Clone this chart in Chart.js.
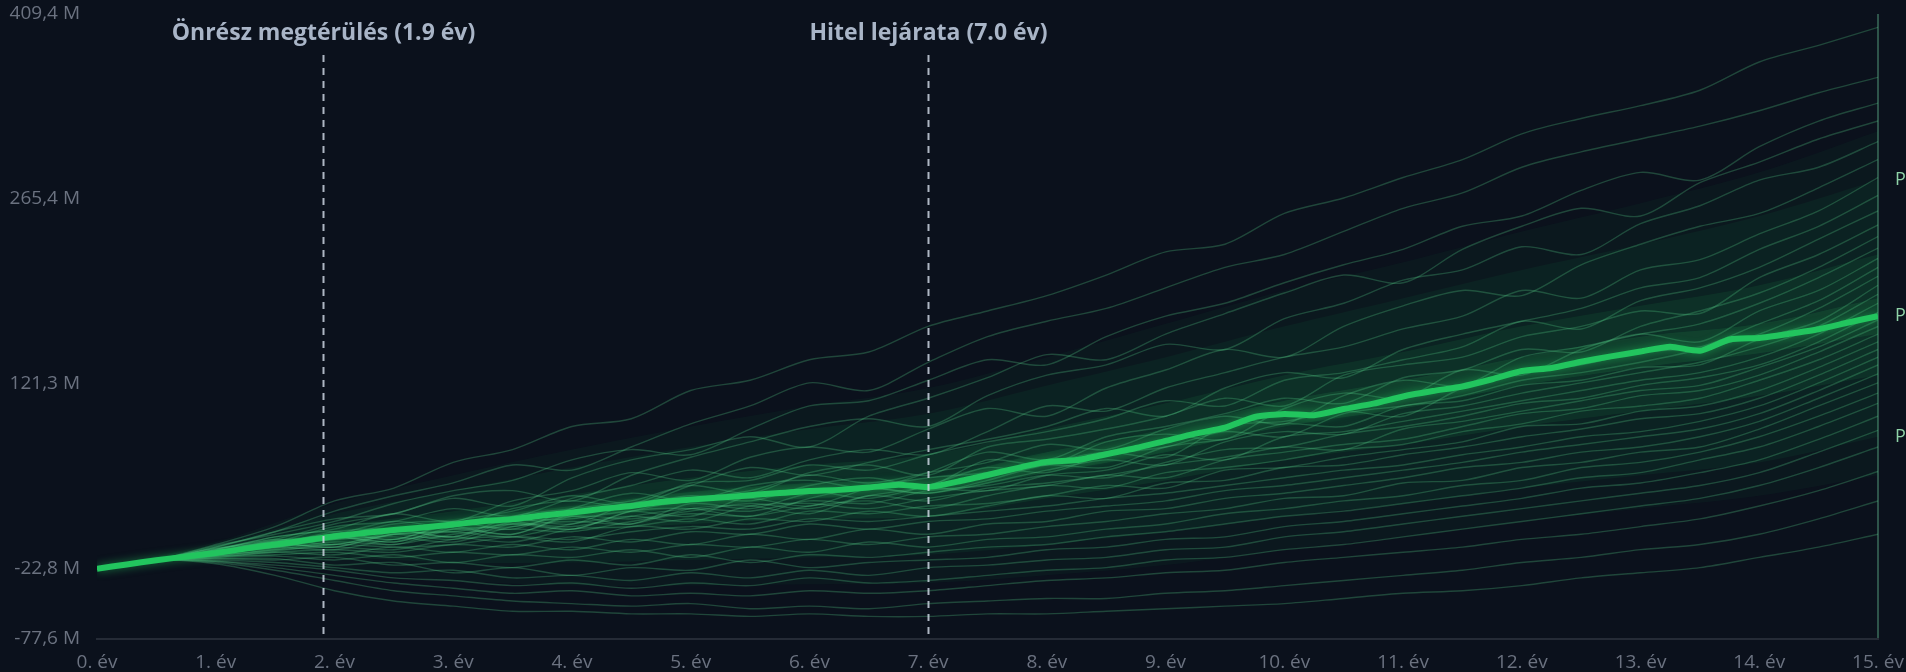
<!DOCTYPE html>
<html lang="hu">
<head>
<meta charset="utf-8">
<title>Monte Carlo – vagyon alakulása</title>
<script src="https://cdn.jsdelivr.net/npm/chart.js@4.4.1/dist/chart.umd.min.js"></script>
<style>
  html, body { margin: 0; padding: 0; background: #0b111c; }
  #wrap { width: 1906px; height: 672px; }
</style>
</head>
<body>
<div id="wrap"><canvas id="mcChart" width="1906" height="672"></canvas></div>
<script>
// x grids (years)
const quarterYears = [0,0.25,0.5,0.75,1,1.25,1.5,1.75,2,2.25,2.5,2.75,3,3.25,3.5,3.75,4,4.25,4.5,4.75,5,5.25,5.5,5.75,6,6.25,6.5,6.75,7,7.25,7.5,7.75,8,8.25,8.5,8.75,9,9.25,9.5,9.75,10,10.25,10.5,10.75,11,11.25,11.5,11.75,12,12.25,12.5,12.75,13,13.25,13.5,13.75,14,14.25,14.5,14.75,15];
const halfYears = [0,0.5,1,1.5,2,2.5,3,3.5,4,4.5,5,5.5,6,6.5,7,7.5,8,8.5,9,9.5,10,10.5,11,11.5,12,12.5,13,13.5,14,14.5,15];
const wholeYears = [0,1,2,3,4,5,6,7,8,9,10,11,12,13,14,15];

// y axis ticks (millió Ft)
const yTickValues = [-77.6, -22.8, 121.3, 265.4, 409.4];

// median path (M Ft), quarterly
const medianValues = [-22.8,-19.5,-16.2,-13.4,-10.6,-7.2,-4.0,-0.8,2.4,5.0,7.4,9.2,11.6,14.2,15.8,18.6,21.0,23.8,26.0,29.2,31.0,32.6,34.4,36.2,37.8,38.6,40.4,42.6,40.8,45.0,50.2,55.6,60.4,61.8,66.4,71.2,76.8,82.4,87.0,95.4,97.8,96.8,101.6,105.8,111.4,115.6,119.2,124.8,131.2,133.6,138.4,142.6,146.4,150.2,147.0,155.8,157.0,160.2,163.8,169.0,174.0];

// percentile bands, yearly
const p05Band = [-22.8,-16,-24,-32,-36,-36,-35,-34,-28,-20,-8,2,14,24,34,50];
const p10Band = [-22.8,-14,-14,-18,-18,-16,-14,-12,-4,6,18,28,40,50,60,80];
const p25Band = [-22.8,-12,-4,0,6,12,16,18,32,46,62,74,88,100,112,128];
const p40Band = [-22.8,-11,-1,7,16,25,32,36,52,68,88,102,120,134,145,160];
const p60Band = [-22.8,-9.5,5,16,26,37,44,48,68,86,108,124,142,158,168,188];
const p75Band = [-22.8,-8,10,22,35,48,58,66,86,106,128,146,166,182,198,222];
const p90Band = [-22.8,-4,20,38,56,72,86,98,120,142,166,188,210,230,252,280];
const p95Band = [-22.8,-2,28,50,70,88,104,118,142,168,194,216,240,262,286,318];

// individual simulated paths, half-yearly
const simPaths = [
  [-22.8,-16,-4,10,30,40,60,70,88,94,116,124,140,146,166,178,190,206,224,230,254,266,282,296,316,328,338,350,372,385,399],
  [-22.8,-16,-6,6,22,34,44,58,54,72,90,104,122,116,138,158,170,180,196,212,222,240,258,270,290,302,312,322,334,348,360],
  [-22.8,-16,-5,4,14,28,38,46,62,70,66,86,104,108,124,140,136,158,174,184,200,214,226,244,252,272,286,280,306,326,340],
  [-22.8,-16,-7,0,12,20,32,26,48,62,70,80,72,96,110,126,144,140,160,176,192,206,200,226,244,258,252,278,294,312,326],
  [-22.8,-16,-6,6,16,20,34,38,30,50,64,76,88,94,88,112,128,136,152,148,172,184,202,210,228,222,246,260,280,290,310],
  [-22.8,-16,-8,2,8,20,14,30,38,52,46,64,72,68,86,102,96,118,132,148,142,166,182,194,190,214,230,244,254,274,296],
  [-22.8,-16,-7,-2,10,14,24,18,32,42,54,48,62,70,66,84,104,100,118,130,142,150,164,174,194,188,210,218,238,256,282],
  [-22.8,-16,-9,-1,4,14,10,24,30,26,42,56,50,60,70,78,88,102,96,118,130,126,148,160,170,180,196,204,226,244,268],
  [-22.8,-16,-8,2,6,0,14,22,34,28,44,46,58,54,66,76,84,94,108,104,124,130,140,150,170,164,186,196,212,234,256],
  [-22.8,-16,-10,-4,6,8,2,18,24,30,42,36,52,58,50,72,78,86,96,110,104,128,136,142,158,166,178,176,204,222,245],
  [-22.8,-16,-9,-1,2,12,14,8,24,36,30,42,46,40,52,68,62,80,88,98,110,106,126,132,148,146,166,178,192,212,236],
  [-22.8,-16,-11,-6,2,-2,10,16,12,28,32,38,50,44,52,60,74,70,86,96,90,112,124,120,142,150,160,168,184,204,227],
  [-22.8,-16,-8,0,-4,6,10,4,20,26,34,30,42,48,42,62,58,76,82,78,102,114,110,132,128,148,160,154,178,194,219],
  [-22.8,-16,-12,-4,4,0,12,14,8,22,30,32,26,40,48,52,60,68,64,88,92,100,96,118,130,136,146,150,168,186,212],
  [-22.8,-16,-10,-2,0,8,2,14,16,22,18,34,38,32,42,56,52,66,72,84,80,98,104,112,124,130,138,148,160,180,205],
  [-22.8,-16,-9,-6,2,-4,8,10,18,12,28,24,36,40,36,46,58,56,72,78,90,88,104,108,120,124,134,136,156,170,198],
  [-22.8,-16,-11,-3,-6,4,6,12,8,22,24,18,32,40,36,44,54,62,58,76,84,82,98,104,114,122,130,138,150,166,191],
  [-22.8,-16,-10,-7,2,-2,8,4,18,16,22,28,24,34,40,38,50,54,66,62,80,84,92,100,108,116,124,130,142,160,184],
  [-22.8,-16,-12,-4,-6,4,0,12,10,18,24,22,30,28,38,42,50,48,60,70,72,82,88,96,106,110,120,126,136,154,177],
  [-22.8,-16,-10,-6,0,2,-2,10,14,12,24,26,20,34,30,40,44,50,58,64,72,70,86,92,100,108,116,120,134,150,171],
  [-22.8,-16,-11,-5,-4,4,6,2,12,18,14,26,28,24,32,38,42,50,48,62,68,74,78,88,98,102,112,116,128,146,166],
  [-22.8,-16,-12,-8,-2,-4,4,8,6,14,20,18,26,30,24,34,42,40,52,56,62,70,74,84,90,100,104,110,124,140,160],
  [-22.8,-16,-11,-6,-8,0,2,-2,8,10,16,12,22,20,26,28,34,42,40,54,56,64,70,76,88,90,100,104,116,134,154],
  [-22.8,-16,-13,-8,-6,-8,0,2,-2,10,8,16,14,22,18,26,34,32,44,46,56,58,66,72,80,86,94,98,110,128,148],
  [-22.8,-16,-12,-9,-4,-6,-4,2,0,6,10,8,16,14,18,22,26,32,36,42,48,54,58,66,72,80,84,92,104,122,142],
  [-22.8,-16,-13,-10,-8,-10,-4,-6,2,-2,6,4,12,8,14,16,22,26,30,38,42,48,54,60,68,74,80,86,98,116,136],
  [-22.8,-16,-14,-10,-12,-6,-10,-4,-8,0,-4,4,0,8,4,12,14,22,24,32,36,42,48,56,60,68,72,80,92,110,129],
  [-22.8,-16,-13,-12,-10,-14,-10,-12,-6,-10,-4,-6,0,-4,2,4,10,14,20,24,32,34,44,46,56,60,68,72,86,104,122],
  [-22.8,-16,-14,-13,-16,-12,-18,-12,-14,-8,-14,-6,-10,-2,-6,0,2,8,12,20,24,30,34,42,46,56,60,68,80,96,114],
  [-22.8,-16,-15,-16,-14,-20,-18,-22,-16,-20,-12,-18,-12,-14,-10,-6,-4,2,6,12,18,22,28,34,40,48,52,62,72,88,106],
  [-22.8,-16,-15,-15,-20,-18,-26,-22,-28,-22,-24,-16,-22,-18,-16,-14,-8,-6,0,2,10,14,20,26,32,40,44,52,62,78,96],
  [-22.8,-16,-16,-18,-22,-26,-24,-30,-28,-32,-26,-30,-24,-28,-22,-20,-16,-14,-8,-6,2,6,12,18,24,30,36,42,52,68,85],
  [-22.8,-16,-17,-20,-24,-30,-32,-36,-34,-38,-34,-36,-30,-34,-32,-28,-24,-22,-16,-14,-8,-4,2,8,14,20,26,32,42,56,72],
  [-22.8,-16,-17,-22,-28,-34,-38,-42,-40,-44,-42,-44,-40,-42,-40,-36,-32,-30,-26,-24,-18,-14,-10,-6,0,4,10,16,26,38,53],
  [-22.8,-16,-18,-24,-32,-40,-44,-48,-50,-52,-50,-54,-52,-54,-50,-48,-46,-46,-42,-40,-36,-32,-28,-24,-18,-14,-8,-4,4,16,30],
  [-22.8,-16,-19,-28,-40,-48,-52,-56,-56,-58,-58,-60,-58,-60,-60,-58,-58,-56,-54,-52,-50,-46,-42,-40,-36,-30,-26,-22,-14,-6,4]
];

// event markers
const markerYears = [1.9, 7.0];
const markerLabels = ['Önrész megtérülés (1.9 év)', 'Hitel lejárata (7.0 év)'];

// right side percentile tags
const pctNames = ['P90', 'P50', 'P10'];
const pctValues = [p90Band[15], medianValues[60], p10Band[15]];

const fmtM = v => v.toFixed(1).replace('.', ',') + ' M';
const toPoints = (xs, ys) => ys.map((y, i) => ({ x: xs[i], y: y }));

const datasets = [];
datasets.push({
    label: 'Medián',
    data: toPoints(quarterYears, medianValues),
    borderColor: '#22c55e',
    borderWidth: 6,
    tension: 0.2,
    order: 0
});
simPaths.forEach((path, i) => {
    datasets.push({
        label: 'Szimuláció ' + (i + 1),
        data: toPoints(halfYears, path),
        borderColor: 'rgba(88, 216, 140, 0.27)',
        borderWidth: 1.4,
        tension: 0.3,
        order: 1
    });
});

// band pairs: upper one fills down to the next dataset
const bandPairs = [
    [p95Band, p05Band, 'rgba(34, 197, 94, 0.04)'],
    [p90Band, p10Band, 'rgba(34, 197, 94, 0.06)'],
    [p75Band, p25Band, 'rgba(34, 197, 94, 0.09)'],
    [p60Band, p40Band, 'rgba(52, 211, 110, 0.11)']
];
bandPairs.forEach(([hi, lo, col]) => {
    datasets.push({ data: toPoints(wholeYears, hi), borderWidth: 0, borderColor: 'transparent', backgroundColor: col, fill: '+1', tension: 0.35, order: 2 });
    datasets.push({ data: toPoints(wholeYears, lo), borderWidth: 0, borderColor: 'transparent', fill: false, tension: 0.35, order: 2 });
});

const glowPlugin = {
    id: 'medianGlow',
    beforeDatasetDraw(chart, args) {
        if (args.index !== 0) return;
        chart.ctx.save();
        chart.ctx.shadowColor = 'rgba(34, 197, 94, 0.55)';
        chart.ctx.shadowBlur = 8;
    },
    afterDatasetDraw(chart, args) {
        if (args.index !== 0) return;
        chart.ctx.restore();
    }
};

const markerPlugin = {
    id: 'markers',
    afterDatasetsDraw(chart) {
        const { ctx, chartArea, scales } = chart;
        ctx.save();
        markerYears.forEach((yr, i) => {
            const px = Math.round(scales.x.getPixelForValue(yr)) + 0.5;
            ctx.strokeStyle = 'rgba(203, 213, 225, 0.85)';
            ctx.lineWidth = 2;
            ctx.setLineDash([7, 6]);
            ctx.beginPath();
            ctx.moveTo(px, chartArea.top + 41);
            ctx.lineTo(px, chartArea.bottom);
            ctx.stroke();
            ctx.setLineDash([]);
            ctx.fillStyle = '#a9b5c7';
            ctx.font = 'bold 23px "Open Sans", sans-serif';
            ctx.textAlign = 'center';
            ctx.textBaseline = 'middle';
            ctx.fillText(markerLabels[i], px, chartArea.top + 19);
        });
        ctx.restore();
    }
};

const pctPlugin = {
    id: 'pctTags',
    afterDraw(chart) {
        const { ctx, chartArea, scales } = chart;
        ctx.save();
        ctx.fillStyle = '#8fd3a8';
        ctx.font = '18px "Open Sans", sans-serif';
        ctx.textAlign = 'left';
        ctx.textBaseline = 'middle';
        pctNames.forEach((name, i) => {
            ctx.fillText(name + ': ' + fmtM(pctValues[i]), chartArea.right + 17, scales.y.getPixelForValue(pctValues[i]));
        });
        ctx.restore();
    }
};

new Chart(document.getElementById('mcChart').getContext('2d'), {
    type: 'line',
    data: { datasets: datasets },
    options: {
        responsive: false,
        animation: false,
        events: [],
        layout: { padding: { top: 14, right: 28, left: 0, bottom: 0 } },
        elements: { point: { radius: 0 } },
        plugins: {
            legend: { display: false },
            tooltip: { enabled: false }
        },
        scales: {
            x: {
                type: 'linear',
                min: 0,
                max: 15,
                afterFit: axis => {
                    axis.height = 33;
                    axis.paddingLeft = 0;
                    axis.paddingRight = 0;
                },
                ticks: {
                    stepSize: 1,
                    autoSkip: false,
                    maxRotation: 0,
                    padding: 12,
                    color: '#6b7280',
                    font: { family: '"Open Sans", sans-serif', size: 19 },
                    callback: v => v + '. év'
                },
                grid: {
                    drawTicks: false,
                    lineWidth: 2,
                    color: c => (c.tick && c.tick.value === 15) ? 'rgba(70, 130, 105, 0.6)' : 'transparent'
                },
                border: { display: true, color: '#252b36', width: 2 }
            },
            y: {
                min: -77.6,
                max: 409.4,
                afterBuildTicks: axis => { axis.ticks = yTickValues.map(v => ({ value: v })); },
                afterFit: axis => {
                    axis.width = 97;
                    axis.paddingTop = 0;
                    axis.paddingBottom = 0;
                },
                ticks: {
                    padding: 9,
                    color: '#6b7280',
                    font: { family: '"Open Sans", sans-serif', size: 19 },
                    callback: v => fmtM(v)
                },
                grid: { display: false },
                border: { display: false }
            }
        }
    },
    plugins: [glowPlugin, markerPlugin, pctPlugin]
});
</script>
</body>
</html>
